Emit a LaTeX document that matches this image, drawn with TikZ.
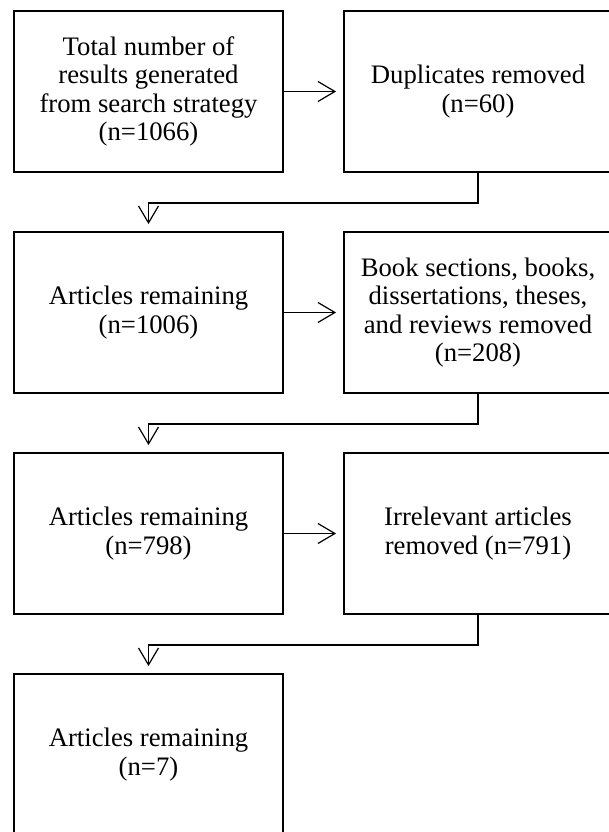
\documentclass[tikz,border=0pt]{standalone}
\usepackage{fontspec}
\setmainfont{Liberation Serif}
\usetikzlibrary{arrows.meta}
\begin{document}
\begin{tikzpicture}[x=1pt,y=-1pt,
  stepbox/.style={draw=black, line width=1.8pt, rectangle, minimum width=269pt, minimum height=161pt, inner sep=0pt, align=center,
    font=\fontsize{26.7}{28.5}\selectfont},
  flow/.style={draw=black, line width=1.2pt, -{Straight Barb[length=17pt,width=20pt,line width=1.2pt]}, shorten >=7pt}
]
\useasboundingbox (0,0) rectangle (609,832);
\clip (0,0) rectangle (609,832);
\node[stepbox] (L1) at (148.5,91.5) {Total number of\\results generated\\from search strategy\\(n=1066)};
\node[stepbox,minimum width=268pt] (R1) at (478,91.5) {Duplicates removed\\(n=60)};
\node[stepbox] (L2) at (148.5,312.5) {Articles remaining\\(n=1006)};
\node[stepbox,minimum width=268pt] (R2) at (478,312.5) {Book sections, books,\\dissertations, theses,\\and reviews removed\\(n=208)};
\node[stepbox] (L3) at (148.5,533.5) {Articles remaining\\(n=798)};
\node[stepbox,minimum width=268pt] (R3) at (478,533.5) {Irrelevant articles\\removed (n=791)};
\node[stepbox] (L4) at (148.5,754.5) {Articles remaining\\(n=7)};
\draw[flow] (L1.east) -- (R1.west);
\draw[flow] (L2.east) -- (R2.west);
\draw[flow] (L3.east) -- (R3.west);
\draw[flow] (R1.south) -- ++(0,30) -| (L2.north);
\draw[flow] (R2.south) -- ++(0,30) -| (L3.north);
\draw[flow] (R3.south) -- ++(0,30) -| (L4.north);
\end{tikzpicture}
\end{document}
